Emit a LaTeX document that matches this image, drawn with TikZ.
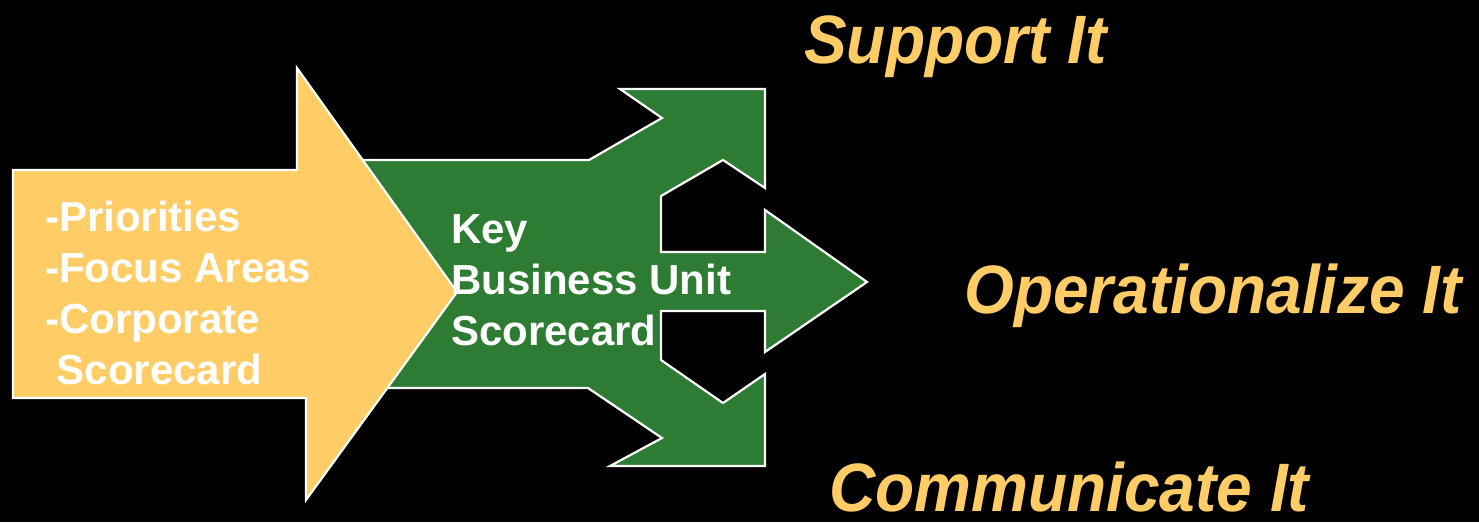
\documentclass[tikz,border=0pt]{standalone}
\usepackage{fontspec}
\usepackage{graphicx}
\setmainfont{Liberation Sans}
\definecolor{goldfill}{RGB}{255,204,102}
\definecolor{leafgreen}{RGB}{46,124,52}
\newcommand{\tallgoal}[1]{\scalebox{1}[1.07]{#1}}
\begin{document}
\begin{tikzpicture}[x=1pt,y=-1pt,
  shapeline/.style={draw=white,line width=2.2pt,line join=miter},
  whitetext/.style={text=white,font=\fontsize{42}{51}\selectfont\bfseries,inner sep=0pt,anchor=base west},
  goaltext/.style={text=goldfill,font=\fontsize{64}{70}\selectfont\bfseries\itshape,inner sep=0pt,anchor=base west}]
  % page and background
  \fill[black] (0,0) rectangle (1479,522);
  \useasboundingbox (0,0) rectangle (1479,522);

  % green three-way arrow (drawn first, the input arrow overlaps its left side)
  \filldraw[shapeline,fill=leafgreen]
    (350,160) -- (589,160) -- (662,118) -- (620,89) -- (765,89) -- (765,188)
    -- (723,160) -- (661,196) -- (661,252) -- (765,252) -- (765,210)
    -- (867,282) -- (765,352) -- (765,311) -- (661,311) -- (661,360)
    -- (723,403) -- (765,374) -- (765,466) -- (610,466) -- (662,438)
    -- (588,388) -- (350,388) -- cycle;

  % yellow input arrow
  \filldraw[shapeline,fill=goldfill]
    (13,170) -- (297,170) -- (297,68) -- (457,292) -- (306,500)
    -- (306,398) -- (13,398) -- cycle;

  % inputs
  \node[whitetext] (in1) at (45,231) {-Priorities};
  \node[whitetext] (in2) at (45,282) {-Focus Areas};
  \node[whitetext] (in3) at (45,333) {-Corporate};
  \node[whitetext] (in4) at (45,384) {\ Scorecard};

  % scorecard label
  \node[whitetext] (sc1) at (451,243) {Key};
  \node[whitetext] (sc2) at (451,294) {Business Unit};
  \node[whitetext] (sc3) at (451,345) {Scorecard};

  % outcomes
  \node[goaltext] (support) at (804,63) {\tallgoal{Support It}};
  \node[goaltext] (operate) at (964,313) {\tallgoal{Operationalize It}};
  \node[goaltext] (communicate) at (829,511) {\tallgoal{Communicate It}};
\end{tikzpicture}
\end{document}
